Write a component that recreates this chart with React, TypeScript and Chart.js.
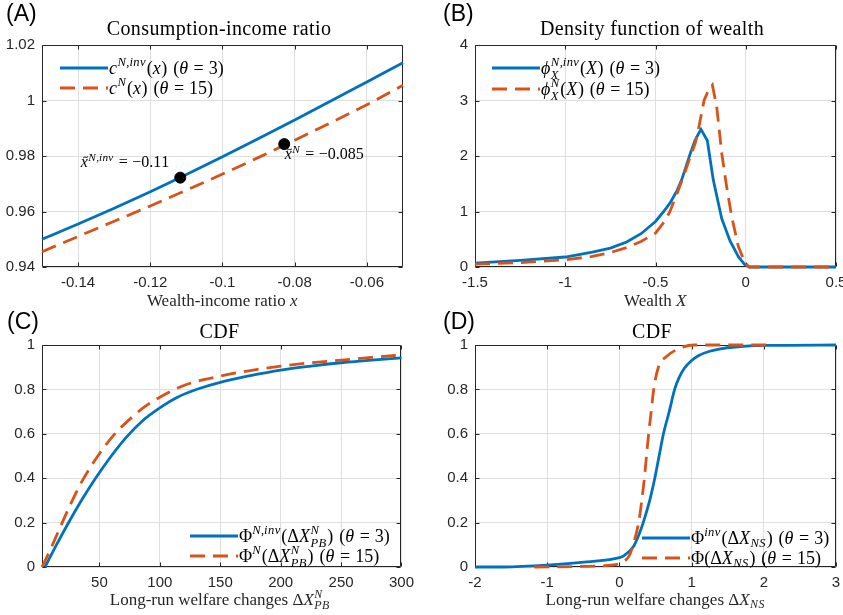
import React, { useEffect, useRef } from "react";
import { Chart, registerables } from "chart.js";
Chart.register(...registerables);

const BLUE = "#0072BD";
const ORANGE = "#D95319";
const AXIS = "#262626";
const GRID = "#dfdfdf";
const SERIF = '"Liberation Serif", "Times New Roman", serif';
const SANS = '"Liberation Sans", Arial, sans-serif';

// ---------- Panel A: consumption-income ratio ----------
const aX = [-0.15, -0.14, -0.13, -0.12, -0.11, -0.1, -0.09, -0.08, -0.07, -0.06, -0.05];
const aInv = [0.95, 0.9555, 0.9612, 0.9671, 0.9733, 0.9797, 0.9863, 0.993, 0.9998, 1.0067, 1.0136];
const aN = [0.9455, 0.951, 0.9565, 0.962, 0.9677, 0.9735, 0.9795, 0.9857, 0.992, 0.9985, 1.0055];
const aDotX = [-0.1117, -0.0829];
const aDotY = [0.9722, 0.9843];
const aDotText = ["$\\tilde{x}^{N,inv} = -0.11$", "$\\tilde{x}^N = -0.085$"];
const aXTicks = [-0.14, -0.12, -0.1, -0.08, -0.06];
const aXTickLabels = ["-0.14", "-0.12", "-0.1", "-0.08", "-0.06"];
const aYTicks = [0.94, 0.96, 0.98, 1.0, 1.02];
const aYTickLabels = ["0.94", "0.96", "0.98", "1", "1.02"];

// ---------- Panel B: density of wealth ----------
const bXInv = [-1.5, -1.25, -1.0, -0.85, -0.75, -0.66, -0.58, -0.5, -0.45, -0.42, -0.38, -0.355, -0.31, -0.28, -0.248, -0.213, -0.18, -0.133, -0.087, -0.04, -0.004, 0.02, 0.5];
const bInv = [0.07, 0.12, 0.18, 0.27, 0.34, 0.45, 0.6, 0.82, 1.02, 1.15, 1.38, 1.57, 2.02, 2.29, 2.48, 2.28, 1.57, 0.87, 0.47, 0.18, 0.04, 0, 0];
const bXN = [-1.5, -1.25, -1.0, -0.85, -0.75, -0.66, -0.58, -0.5, -0.45, -0.42, -0.38, -0.345, -0.31, -0.28, -0.263, -0.231, -0.205, -0.185, -0.161, -0.133, -0.106, -0.078, -0.041, -0.004, 0.02, 0.5];
const bN = [0.05, 0.08, 0.13, 0.19, 0.26, 0.35, 0.46, 0.61, 0.82, 1.0, 1.33, 1.63, 1.96, 2.23, 2.47, 3.0, 3.2, 3.28, 2.89, 2.05, 1.45, 0.91, 0.37, 0.07, 0, 0];
const bXTicks = [-1.5, -1, -0.5, 0, 0.5];
const bXTickLabels = ["-1.5", "-1", "-0.5", "0", "0.5"];
const bYTicks = [0, 1, 2, 3, 4];
const bYTickLabels = ["0", "1", "2", "3", "4"];

// ---------- Panel C: CDF of long-run welfare changes (PB) ----------
const cXInv = [5, 15, 24, 36, 47.5, 60, 72, 86, 100, 115, 132, 150, 175, 200, 225, 250, 275, 300];
const cInv = [0, 0.105, 0.195, 0.307, 0.405, 0.501, 0.583, 0.66, 0.717, 0.766, 0.803, 0.832, 0.862, 0.887, 0.905, 0.92, 0.932, 0.942];
const cXN = [2.5, 10, 16, 25, 36, 50, 62, 75, 87, 100, 121, 150, 175, 200, 225, 250, 275, 300];
const cN = [0, 0.085, 0.16, 0.27, 0.39, 0.51, 0.595, 0.665, 0.72, 0.765, 0.82, 0.86, 0.885, 0.905, 0.92, 0.932, 0.944, 0.955];
const cXTicks = [50, 100, 150, 200, 250, 300];
const cXTickLabels = ["50", "100", "150", "200", "250", "300"];
const cdfYTicks = [0, 0.2, 0.4, 0.6, 0.8, 1];
const cdfYTickLabels = ["0", "0.2", "0.4", "0.6", "0.8", "1"];

// ---------- Panel D: CDF of long-run welfare changes (NS) ----------
const dXInv = [-2, -1.6, -1, -0.45, 0, 0.06, 0.2, 0.27, 0.33, 0.42, 0.49, 0.55, 0.61, 0.69, 0.765, 0.83, 0.9, 1.0, 1.1, 1.25, 1.4, 1.6, 2.0, 3.0];
const dInv = [0, 0, 0.008, 0.023, 0.042, 0.05, 0.095, 0.145, 0.2, 0.3, 0.4, 0.5, 0.6, 0.7, 0.8, 0.855, 0.895, 0.93, 0.953, 0.972, 0.983, 0.991, 0.998, 1.0];
const dXN = [-1.18, -0.6, -0.2, 0, 0.1, 0.15, 0.244, 0.267, 0.31, 0.346, 0.375, 0.405, 0.44, 0.475, 0.54, 0.66, 0.8, 1.03, 2.1];
const dN = [0, 0.002, 0.006, 0.015, 0.035, 0.06, 0.165, 0.2, 0.3, 0.4, 0.5, 0.6, 0.7, 0.8, 0.9, 0.95, 0.98, 1.0, 1.0];
const dXTicks = [-2, -1, 0, 1, 2, 3];
const dXTickLabels = ["-2", "-1", "0", "1", "2", "3"];

// ---------- rich text (mini LaTeX) ----------
type Atom =
  | { k: "t"; s: string; it: boolean; tilde?: boolean }
  | { k: "sp"; w: number }
  | { k: "sc"; sup?: Atom[]; sub?: Atom[] };

function parseMath(src: string): Atom[] {
  const out: Atom[] = [];
  let i = 0;
  const group = (): string => {
    if (src[i] === "{") {
      let d = 1;
      let j = i + 1;
      while (j < src.length && d > 0) {
        if (src[j] === "{") d++;
        else if (src[j] === "}") d--;
        j++;
      }
      const g = src.slice(i + 1, j - 1);
      i = j;
      return g;
    }
    if (src[i] === "\\") {
      let j = i + 1;
      while (j < src.length && /[a-zA-Z]/.test(src[j])) j++;
      const g = src.slice(i, j);
      i = j;
      return g;
    }
    return src[i++];
  };
  const map: Record<string, [string, boolean]> = {
    theta: ["θ", true],
    phi: ["ϕ", true],
    Phi: ["Φ", false],
    Delta: ["Δ", false],
  };
  while (i < src.length) {
    const c = src[i];
    if (c === "^" || c === "_") {
      i++;
      const g = group();
      let last = out[out.length - 1] as any;
      if (!last || last.k !== "sc") {
        last = { k: "sc" };
        out.push(last);
      }
      if (c === "^") last.sup = parseMath(g);
      else last.sub = parseMath(g);
      continue;
    }
    if (c === "\\") {
      const n = src[i + 1];
      if (n === " " || n === ",") {
        out.push({ k: "sp", w: n === " " ? 0.33 : 0.17 });
        i += 2;
        continue;
      }
      let j = i + 1;
      while (j < src.length && /[a-zA-Z]/.test(src[j])) j++;
      const cmd = src.slice(i + 1, j);
      i = j;
      if (cmd === "tilde") {
        const g = group();
        out.push({ k: "t", s: g, it: true, tilde: true });
        continue;
      }
      const m = map[cmd];
      if (m) out.push({ k: "t", s: m[0], it: m[1] });
      continue;
    }
    if (c === " ") {
      i++;
      continue;
    }
    if (c === "=") {
      out.push({ k: "sp", w: 0.28 }, { k: "t", s: "=", it: false }, { k: "sp", w: 0.28 });
      i++;
      continue;
    }
    if (c === "-") {
      out.push({ k: "t", s: "\u2212", it: false });
      i++;
      continue;
    }
    if (/[a-zA-Z]/.test(c)) {
      out.push({ k: "t", s: c, it: true });
      i++;
      continue;
    }
    out.push({ k: "t", s: c, it: false });
    i++;
  }
  return out;
}

function parseRich(str: string): Atom[] {
  const parts = str.split("$");
  const out: Atom[] = [];
  parts.forEach((p, idx) => {
    if (!p) return;
    if (idx % 2 === 0) out.push({ k: "t", s: p, it: false });
    else out.push(...parseMath(p));
  });
  return out;
}

function drawAtoms(ctx: CanvasRenderingContext2D, atoms: Atom[], x: number, y: number, size: number, draw: boolean): number {
  let cx = x;
  for (const a of atoms) {
    if (a.k === "sp") {
      cx += a.w * size;
      continue;
    }
    if (a.k === "t") {
      ctx.font = `${a.it ? "italic " : ""}${size}px ${SERIF}`;
      const w = ctx.measureText(a.s).width;
      if (draw) {
        ctx.fillText(a.s, cx, y);
        if (a.tilde) {
          const tw = size * 0.3;
          const x0 = cx + w / 2 - tw / 2 + size * 0.08;
          const y0 = y - size * 0.62;
          const amp = size * 0.045;
          ctx.save();
          ctx.strokeStyle = ctx.fillStyle as string;
          ctx.lineWidth = Math.max(1, size * 0.055);
          ctx.beginPath();
          ctx.moveTo(x0, y0 + amp);
          ctx.bezierCurveTo(x0 + tw * 0.33, y0 - amp * 2.2, x0 + tw * 0.67, y0 + amp * 2.2, x0 + tw, y0 - amp);
          ctx.stroke();
          ctx.restore();
        }
      }
      cx += w + (a.it ? size * 0.03 : 0);
      continue;
    }
    const ss = size * 0.7;
    let wsup = 0;
    let wsub = 0;
    if (a.sup) wsup = drawAtoms(ctx, a.sup, cx, y - size * 0.4, ss, draw);
    if (a.sub) wsub = drawAtoms(ctx, a.sub, cx, y + size * (a.sup ? 0.28 : 0.2), ss, draw);
    cx += Math.max(wsup, wsub) + size * 0.04;
  }
  return cx - x;
}

function drawRich(ctx: CanvasRenderingContext2D, str: string, x: number, y: number, size: number, align: "left" | "center" | "right", color: string, spacing = 0) {
  const atoms = parseRich(str);
  ctx.save();
  ctx.fillStyle = color;
  ctx.textAlign = "left";
  ctx.textBaseline = "alphabetic";
  (ctx as any).letterSpacing = `${spacing}px`;
  const w = drawAtoms(ctx, atoms, 0, 0, size, false);
  const x0 = align === "center" ? x - w / 2 : align === "right" ? x - w : x;
  drawAtoms(ctx, atoms, x0, y, size, true);
  ctx.restore();
}

// ---------- panels ----------
type LegendItem = { text: string; color: string; dash: number[] };
type PanelCfg = {
  left: number;
  top: number;
  w: number;
  h: number;
  area: { l: number; t: number; r: number; b: number };
  letter: string;
  letterPos: [number, number];
  title: string;
  titlePos: [number, number];
  xlabel: string;
  xlabelPos: [number, number];
  legendX: number;
  legendY: number[];
  legend: LegendItem[];
  xMin: number;
  xMax: number;
  yMin: number;
  yMax: number;
  xTicks: number[];
  xTickLabels: string[];
  yTicks: number[];
  yTickLabels: string[];
  datasets: any[];
  annotations?: { x: number; y: number; text: string; dx: number; dy: number; align: "left" | "right" }[];
};

const pts = (xs: number[], ys: number[]) => xs.map((x, i) => ({ x, y: ys[i] }));

const lineDs = (xs: number[], ys: number[], color: string, dashed: boolean, smooth: boolean) => ({
  data: pts(xs, ys),
  borderColor: color,
  backgroundColor: color,
  borderWidth: 2.8,
  borderDash: dashed ? [15, 8] : [],
  pointRadius: 0,
  fill: false,
  tension: 0,
  cubicInterpolationMode: smooth ? "monotone" : "default",
  clip: 5,
  order: dashed ? 0 : 1,
});

const DASH = [15, 8];

const panels: PanelCfg[] = [
  {
    left: 0,
    top: 0,
    w: 421,
    h: 310,
    area: { l: 42, t: 45, r: 403, b: 267 },
    letter: "(A)",
    letterPos: [6, 21],
    title: "Consumption-income ratio",
    titlePos: [219, 35],
    xlabel: "Wealth-income ratio $x$",
    xlabelPos: [222.5, 305.5],
    legendX: 60,
    legendY: [68, 88],
    legend: [
      { text: "$c^{N,inv}(x)\\ (\\theta=3)$", color: BLUE, dash: [] },
      { text: "$c^N(x)\\ (\\theta=15)$", color: ORANGE, dash: DASH },
    ],
    xMin: -0.15,
    xMax: -0.05,
    yMin: 0.94,
    yMax: 1.02,
    xTicks: aXTicks,
    xTickLabels: aXTickLabels,
    yTicks: aYTicks,
    yTickLabels: aYTickLabels,
    datasets: [
      {
        data: pts(aDotX, aDotY),
        showLine: false,
        pointRadius: 5.5,
        pointBackgroundColor: "#000",
        pointBorderColor: "#000",
        borderColor: "#000",
        order: -1,
        clip: 8,
      },
      lineDs(aX, aInv, BLUE, false, true),
      lineDs(aX, aN, ORANGE, true, true),
    ],
    annotations: [
      { x: aDotX[0], y: aDotY[0], text: aDotText[0], dx: -11, dy: -10.5, align: "right" },
      { x: aDotX[1], y: aDotY[1], text: aDotText[1], dx: 0.5, dy: 15.3, align: "left" },
    ],
  },
  {
    left: 421,
    top: 0,
    w: 450,
    h: 310,
    area: { l: 475, t: 45, r: 836, b: 267 },
    letter: "(B)",
    letterPos: [443, 21],
    title: "Density function of wealth",
    titlePos: [652, 35],
    xlabel: "Wealth $X$",
    xlabelPos: [655.5, 305.5],
    legendX: 492,
    legendY: [68, 89],
    legend: [
      { text: "$\\phi_X^{N,inv}(X)\\ (\\theta=3)$", color: BLUE, dash: [] },
      { text: "$\\phi_X^N(X)\\ (\\theta=15)$", color: ORANGE, dash: DASH },
    ],
    xMin: -1.5,
    xMax: 0.5,
    yMin: 0,
    yMax: 4,
    xTicks: bXTicks,
    xTickLabels: bXTickLabels,
    yTicks: bYTicks,
    yTickLabels: bYTickLabels,
    datasets: [lineDs(bXInv, bInv, BLUE, false, false), lineDs(bXN, bN, ORANGE, true, false)],
  },
  {
    left: 0,
    top: 310,
    w: 421,
    h: 305,
    area: { l: 42, t: 345, r: 403, b: 567 },
    letter: "(C)",
    letterPos: [7, 329],
    title: "CDF",
    titlePos: [219.5, 337.7],
    xlabel: "Long-run welfare changes $\\Delta X^N_{PB}$",
    xlabelPos: [220, 604.5],
    legendX: 190,
    legendY: [536, 556],
    legend: [
      { text: "$\\Phi^{N,inv}(\\Delta X^N_{PB})\\ (\\theta=3)$", color: BLUE, dash: [] },
      { text: "$\\Phi^N(\\Delta X^N_{PB})\\ (\\theta=15)$", color: ORANGE, dash: DASH },
    ],
    xMin: 2.5,
    xMax: 300,
    yMin: 0,
    yMax: 1,
    xTicks: cXTicks,
    xTickLabels: cXTickLabels,
    yTicks: cdfYTicks,
    yTickLabels: cdfYTickLabels,
    datasets: [lineDs(cXInv, cInv, BLUE, false, true), lineDs(cXN, cN, ORANGE, true, true)],
  },
  {
    left: 421,
    top: 310,
    w: 450,
    h: 305,
    area: { l: 475, t: 345, r: 836, b: 567 },
    letter: "(D)",
    letterPos: [443, 329],
    title: "CDF",
    titlePos: [652, 337.7],
    xlabel: "Long-run welfare changes $\\Delta X_{NS}$",
    xlabelPos: [655.5, 604.5],
    legendX: 642,
    legendY: [538, 558],
    legend: [
      { text: "$\\Phi^{inv}(\\Delta X_{NS})\\ (\\theta=3)$", color: BLUE, dash: [] },
      { text: "$\\Phi(\\Delta X_{NS})\\ (\\theta=15)$", color: ORANGE, dash: DASH },
    ],
    xMin: -2,
    xMax: 3,
    yMin: 0,
    yMax: 1,
    xTicks: dXTicks,
    xTickLabels: dXTickLabels,
    yTicks: cdfYTicks,
    yTickLabels: cdfYTickLabels,
    datasets: [lineDs(dXInv, dInv, BLUE, false, true), lineDs(dXN, dN, ORANGE, true, true)],
  },
];

const decorPlugin = {
  id: "decor",
  beforeDatasetsDraw(chart: any, _args: any, opts: any) {
    const cfg: PanelCfg = opts.cfg;
    const ctx: CanvasRenderingContext2D = chart.ctx;
    const { left, top, right, bottom } = chart.chartArea;
    ctx.save();
    ctx.strokeStyle = AXIS;
    ctx.lineWidth = 1;
    const L = Math.round(left) + 0.5;
    const R = Math.round(right) - 0.5;
    const T = Math.round(top) + 0.5;
    const B = Math.round(bottom) - 0.5;
    ctx.beginPath();
    ctx.rect(L, T, R - L, B - T);
    const tl = 4;
    cfg.xTicks.forEach((v) => {
      const px = Math.round(chart.scales.x.getPixelForValue(v)) + 0.5;
      ctx.moveTo(px, B);
      ctx.lineTo(px, B - tl);
      ctx.moveTo(px, T);
      ctx.lineTo(px, T + tl);
    });
    cfg.yTicks.forEach((v) => {
      const py = Math.round(chart.scales.y.getPixelForValue(v)) + 0.5;
      ctx.moveTo(L, py);
      ctx.lineTo(L + tl, py);
      ctx.moveTo(R, py);
      ctx.lineTo(R - tl, py);
    });
    ctx.stroke();
    ctx.restore();
  },
  afterDraw(chart: any, _args: any, opts: any) {
    const cfg: PanelCfg = opts.cfg;
    const ctx: CanvasRenderingContext2D = chart.ctx;
    const ox = cfg.left;
    const oy = cfg.top;
    // panel letter
    ctx.save();
    ctx.fillStyle = "#000";
    ctx.font = `23px ${SANS}`;
    ctx.textAlign = "left";
    ctx.textBaseline = "alphabetic";
    ctx.fillText(cfg.letter, cfg.letterPos[0] - ox, cfg.letterPos[1] - oy);
    ctx.restore();
    // title & x label
    drawRich(ctx, cfg.title, cfg.titlePos[0] - ox, cfg.titlePos[1] - oy, 20, "center", "#000", 0.4);
    drawRich(ctx, cfg.xlabel, cfg.xlabelPos[0] - ox, cfg.xlabelPos[1] - oy, 17, "center", AXIS);
    // legend
    const sampleLen = 48;
    cfg.legend.forEach((it, i) => {
      const y = cfg.legendY[i] - oy;
      const x = cfg.legendX - ox;
      ctx.save();
      ctx.strokeStyle = it.color;
      ctx.lineWidth = 2.8;
      ctx.setLineDash(it.dash);
      ctx.beginPath();
      ctx.moveTo(x, y);
      ctx.lineTo(x + sampleLen, y);
      ctx.stroke();
      ctx.restore();
      drawRich(ctx, it.text, x + sampleLen + 1, y + 5.5, 18, "left", "#000");
    });
    // annotations
    (cfg.annotations || []).forEach((a) => {
      const px = chart.scales.x.getPixelForValue(a.x) + a.dx;
      const py = chart.scales.y.getPixelForValue(a.y) + a.dy;
      drawRich(ctx, a.text, px, py, 16, a.align, "#000");
    });
  },
};

function buildConfig(cfg: PanelCfg): any {
  const aL = cfg.area.l - cfg.left;
  const aT = cfg.area.t - cfg.top;
  const aR = cfg.area.r - cfg.left;
  const aB = cfg.area.b - cfg.top;
  const tickFont = { family: SANS, size: 15 };
  return {
    type: "line",
    data: { datasets: cfg.datasets },
    plugins: [decorPlugin],
    options: {
      animation: false,
      responsive: false,
      devicePixelRatio: 1,
      events: [],
      layout: { padding: { left: 0, top: aT, right: cfg.w - aR, bottom: 0 } },
      plugins: {
        legend: { display: false },
        tooltip: { enabled: false },
        title: { display: false },
        decor: { cfg },
      },
      scales: {
        x: {
          type: "linear",
          min: cfg.xMin,
          max: cfg.xMax,
          afterBuildTicks: (s: any) => {
            s.ticks = cfg.xTicks.map((v) => ({ value: v }));
          },
          afterFit: (s: any) => {
            s.height = cfg.h - aB;
          },
          ticks: {
            font: tickFont,
            color: AXIS,
            padding: 7,
            maxRotation: 0,
            autoSkip: false,
            callback: (_v: any, i: number) => cfg.xTickLabels[i],
          },
          grid: { color: GRID, drawTicks: false, lineWidth: 1 },
          border: { display: false },
        },
        y: {
          type: "linear",
          min: cfg.yMin,
          max: cfg.yMax,
          afterBuildTicks: (s: any) => {
            s.ticks = cfg.yTicks.map((v) => ({ value: v }));
          },
          afterFit: (s: any) => {
            s.width = aL;
          },
          ticks: {
            font: tickFont,
            color: AXIS,
            padding: 7,
            autoSkip: false,
            callback: (_v: any, i: number) => cfg.yTickLabels[i],
          },
          grid: { color: GRID, drawTicks: false, lineWidth: 1 },
          border: { display: false },
        },
      },
    },
  };
}

function Panel({ cfg }: { cfg: PanelCfg }) {
  const ref = useRef<HTMLCanvasElement>(null);
  useEffect(() => {
    const chart = new Chart(ref.current as HTMLCanvasElement, buildConfig(cfg));
    return () => chart.destroy();
  }, [cfg]);
  return (
    <canvas
      ref={ref}
      width={cfg.w}
      height={cfg.h}
      style={{ position: "absolute", left: cfg.left, top: cfg.top, width: cfg.w, height: cfg.h }}
    />
  );
}

export default function App() {
  return (
    <div
      style={{
        position: "fixed",
        left: 0,
        top: 0,
        width: 843,
        height: 615,
        overflow: "hidden",
        background: "#ffffff",
      }}
    >
      {panels.map((p) => (
        <Panel key={p.letter} cfg={p} />
      ))}
    </div>
  );
}
